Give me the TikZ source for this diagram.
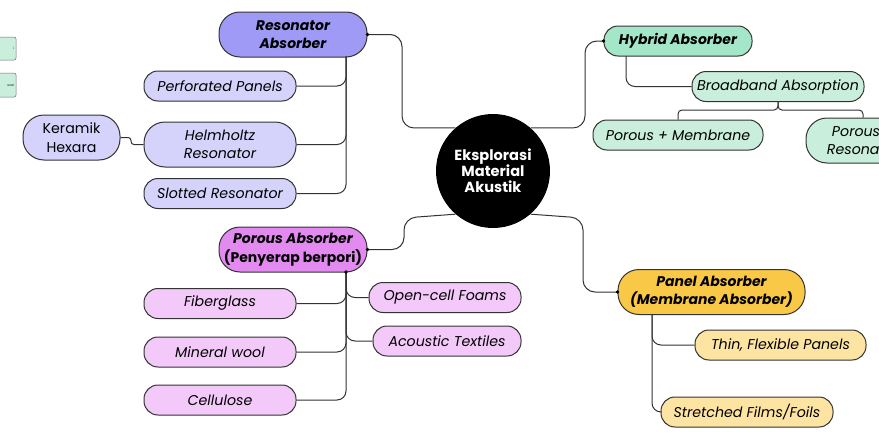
\documentclass[tikz,border=0pt]{standalone}
\usepackage{fontspec}
\setmainfont{Poppins}
\definecolor{resA}{HTML}{9E9AF5}
\definecolor{resB}{HTML}{D5D3FB}
\definecolor{hybA}{HTML}{A3E6C8}
\definecolor{hybB}{HTML}{C9EEDC}
\definecolor{porA}{HTML}{E28AF0}
\definecolor{porB}{HTML}{F3C9F9}
\definecolor{panA}{HTML}{F9C846}
\definecolor{panB}{HTML}{FDE4A3}
\definecolor{edge}{HTML}{333333}
\begin{document}
\begin{tikzpicture}[x=1pt,y=-1pt,
  pill/.style={draw=edge, line width=1pt, align=center, inner sep=0pt,
    font=\fontsize{14.2}{18.5}\selectfont\itshape},
  one/.style={pill, minimum height=30, rounded corners=14},
  two/.style={pill, minimum height=45, rounded corners=21},
  head/.style={font=\fontsize{14}{18.5}\selectfont\bfseries\itshape},
  conn/.style={draw=edge, line width=1pt, rounded corners=9},
  dotc/.style={circle, fill=black, inner sep=0pt, minimum size=3.8}]
\useasboundingbox (0,0) rectangle (879,439);

% tiny clipped boxes at the left margin
\node[draw=edge!70, line width=0.5pt, fill=hybB, rounded corners=2, minimum width=26, minimum height=23,
  text width=22, align=right, inner sep=1pt, font=\fontsize{3}{4}\selectfont] (ta) at (3,48.5) {i};
\node[draw=edge!70, line width=0.5pt, fill=hybB, rounded corners=2, minimum width=26, minimum height=24,
  text width=22, align=right, inner sep=1pt, font=\fontsize{3}{4}\selectfont] (tb) at (3,85) {onal};

% hub
\node[circle, fill=black, minimum size=114, inner sep=0pt, align=center, text=white,
  font=\fontsize{14.6}{16}\selectfont\bfseries] (hub) at (493,171) {Eksplorasi\\Material\\Akustik};

% resonator branch
\node[two, head, fill=resA, minimum width=148] (res) at (293,34.5) {Resonator\\Absorber};
\node[one, fill=resB, minimum width=152] (perf) at (220,86) {Perforated Panels};
\node[two, fill=resB, minimum width=152] (helm) at (220,144.5) {Helmholtz\\Resonator};
\node[one, fill=resB, minimum width=152] (slot) at (220,193.5) {Slotted Resonator};
\node[two, fill=resB, minimum width=97, font=\fontsize{14.2}{18.5}\selectfont\upshape] (ker) at (71.5,137.5) {Keramik\\Hexara};

% hybrid branch
\node[one, head, fill=hybA, minimum width=148] (hyb) at (678,41) {Hybrid Absorber};
\node[one, fill=hybB, minimum width=172] (broad) at (778,86.5) {Broadband Absorption};
\node[one, fill=hybB, minimum width=170] (pm) at (678,135) {Porous + Membrane};
\node[two, fill=hybB, minimum width=114] (pr) at (863,140.5) {Porous +\\Resonator};

% porous branch
\node[two, head, fill=porA, minimum width=148] (por) at (293,249.5) {Porous Absorber\\\upshape(Penyerap berpori)};
\node[one, fill=porB, minimum width=152] (fib) at (220,303.5) {Fiberglass};
\node[one, fill=porB, minimum width=152] (minw) at (220,352) {Mineral wool};
\node[one, fill=porB, minimum width=152] (cel) at (220,400) {Cellulose};
\node[one, fill=porB, minimum width=152] (open) at (445,297.5) {Open-cell Foams};
\node[one, fill=porB, minimum width=148] (acou) at (447,341) {Acoustic Textiles};

% panel branch
\node[two, head, fill=panA, minimum width=187] (pan) at (711.5,292) {Panel Absorber\\(Membrane Absorber)};
\node[one, fill=panB, minimum width=171] (thin) at (780.5,345) {Thin, Flexible Panels};
\node[one, fill=panB, minimum width=172] (film) at (747,412) {Stretched Films/Foils};

% main connectors
\draw[conn, rounded corners=12] (res.east) -- (402,34.5) -- (402,128) -- (hub.131);
\draw[conn, rounded corners=12] (hub.49) -- (585,128) -- (585,41) -- (hyb.west);
\draw[conn, rounded corners=12] (hub.229) -- (404,218) -- (404,249.5) -- (por.east);
\draw[conn, rounded corners=12] (hub.311) -- (583,218) -- (583,292) -- (pan.west);
\node[dotc] (d1) at (res.east) {};
\node[dotc] (d2) at (hyb.west) {};
\node[dotc] (d3) at (por.east) {};
\node[dotc] (d4) at (pan.west) {};

% resonator children
\coordinate (rs) at (346,56.5);
\draw[conn] (rs) |- (perf.east);
\draw[conn] (rs) |- (helm.east);
\draw[conn] (rs) |- (slot.east);
\draw[conn, rounded corners=3] (ker.east) -- (131,137.5) -- (131,144.5) -- (helm.west);

% hybrid children
\coordinate (hs) at (626,56);
\draw[conn] (hs) |- (broad.west);
\coordinate (bj) at (778,110);
\draw[conn, rounded corners=4] (pm.north) -- (678,110) -- (bj) -- (broad.south);
\draw[conn, rounded corners=4] (pr.north) -- (863,110) -- (bj) -- (broad.south);

% porous children
\coordinate (ps) at (346,272);
\draw[conn] (ps) |- (fib.east);
\draw[conn] (ps) |- (minw.east);
\draw[conn] (ps) |- (cel.east);
\draw[conn] (ps) |- (open.west);
\draw[conn] (ps) |- (acou.west);
\node[dotc] (d5) at (ps) {};

% panel children
\coordinate (qs) at (652,315);
\draw[conn] (qs) |- (thin.west);
\draw[conn] (qs) |- (film.west);
\end{tikzpicture}
\end{document}
